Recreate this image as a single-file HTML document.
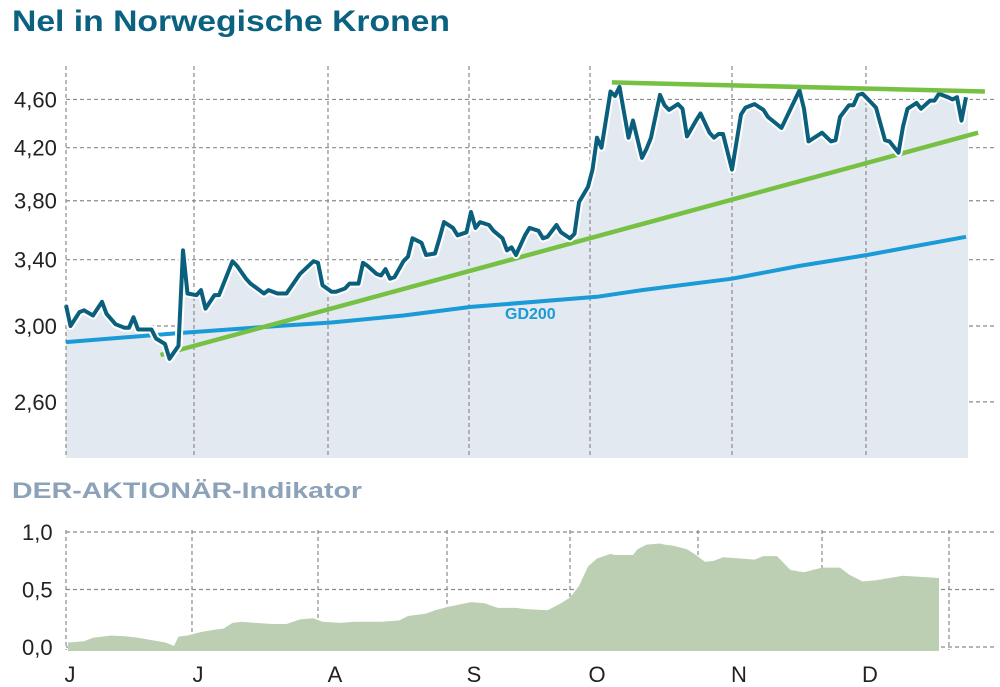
<!DOCTYPE html>
<html><head><meta charset="utf-8"><style>
html,body{margin:0;padding:0;background:#fff;}
svg{display:block;font-family:"Liberation Sans",sans-serif;}
</style></head><body>
<svg id="chart" width="1000" height="687" viewBox="0 0 1000 687">
<text x="12" y="31" font-size="30" font-weight="bold" fill="#0b6180" textLength="438" lengthAdjust="spacingAndGlyphs">Nel in Norwegische Kronen</text>
<text x="12" y="498" font-size="22" font-weight="bold" fill="#8ca2b9" textLength="350" lengthAdjust="spacingAndGlyphs">DER-AKTIONÄR-Indikator</text>
<g id="topPanel"></g>
<g id="botPanel"></g>
</svg>
<script>
const priceDays=[0,1,3,4,6,8,9,11,13,14,15,16,19,20,22,23,25,26,27,29,30,31,33,34,37,38,40,41,44,45,47,49,52,55,56,57,59,60,62,63,65,66,67,69,70,71,72,73,75,76,77,79,80,82,83,84,86,87,89,90,91,92,94,95,97,98,99,100,102,103,105,106,107,109,110,112,113,114,116,117,118,119,121,122,123,125,126,128,129,130,132,133,134,136,137,138,140,141,143,144,145,146,148,150,151,153,155,156,159,163,164,165,168,170,171,172,174,175,176,177,179,180,182,183,185,186,187,189,190,192,193,194,196,197,198,199,200];
const priceValues=[3.12,3.00,3.08,3.09,3.06,3.14,3.07,3.01,2.99,2.99,3.05,2.98,2.98,2.93,2.90,2.82,2.89,3.46,3.19,3.18,3.21,3.10,3.18,3.18,3.39,3.36,3.28,3.25,3.19,3.21,3.19,3.19,3.31,3.39,3.38,3.24,3.20,3.20,3.22,3.25,3.25,3.38,3.36,3.31,3.30,3.34,3.28,3.29,3.39,3.42,3.54,3.51,3.43,3.44,3.54,3.65,3.61,3.56,3.58,3.72,3.61,3.65,3.63,3.59,3.54,3.46,3.48,3.43,3.56,3.61,3.59,3.54,3.55,3.63,3.58,3.54,3.57,3.79,3.90,4.03,4.28,4.20,4.67,4.63,4.71,4.28,4.42,4.12,4.19,4.28,4.64,4.55,4.51,4.56,4.52,4.29,4.42,4.48,4.32,4.28,4.31,4.31,4.03,4.47,4.53,4.56,4.51,4.45,4.36,4.68,4.52,4.25,4.32,4.25,4.26,4.45,4.55,4.55,4.64,4.65,4.57,4.53,4.26,4.25,4.16,4.37,4.52,4.57,4.52,4.59,4.59,4.65,4.62,4.60,4.62,4.42,4.62];
const gdDays=[0,25,47,59,75,90,118,128,148,163,178,200];
const gdValues=[2.91,2.96,3.00,3.02,3.06,3.11,3.17,3.21,3.28,3.36,3.43,3.55];
const lowerTrendDays=[21,202.7];
const lowerTrendValues=[2.84,4.32];
const upperTrendDays=[121.3,204.2];
const upperTrendValues=[4.75,4.67];
const priceTicks=[4.60,4.20,3.80,3.40,3.00,2.60];
const priceTickLabels=["4,60","4,20","3,80","3,40","3,00","2,60"];
const indDays=[0,1,4,6,10,14,16,19,22,24,25,27,30,33,35,37,39,42,46,49,52,55,57,61,64,66,70,74,76,80,82,85,90,93,96,100,102,107,110,112,114,116,118,121,122,126,127,129,132,133,135,138,140,142,144,146,150,153,155,158,161,164,168,172,174,177,180,183,186,190,194];
const indValues=[0.04,0.04,0.05,0.08,0.10,0.09,0.08,0.06,0.04,0.01,0.09,0.10,0.13,0.15,0.16,0.21,0.22,0.21,0.20,0.20,0.24,0.25,0.22,0.21,0.22,0.22,0.22,0.23,0.27,0.29,0.32,0.35,0.39,0.38,0.34,0.34,0.33,0.32,0.38,0.43,0.53,0.70,0.77,0.81,0.80,0.80,0.85,0.89,0.90,0.89,0.88,0.85,0.80,0.74,0.75,0.78,0.77,0.76,0.79,0.79,0.67,0.65,0.69,0.69,0.63,0.57,0.58,0.60,0.62,0.61,0.60];
const indTicks=[1.0,0.5,0.0];
const indTickLabels=["1,0","0,5","0,0"];
const topGridLines=[66,194,328,469,590,732,866];
const botGridLines=[66,192,318,447,570,698,822,949];
const monthLabels=["J","J","A","S","O","N","D"];
const monthLabelX=[70,198,335,474,597,739,870];

const NS="http://www.w3.org/2000/svg";
function mk(tag,attrs,parent){const e=document.createElementNS(NS,tag);for(const k in attrs)e.setAttribute(k,attrs[k]);parent.appendChild(e);return e;}
const xDay=d=>66+d*4.5;
const yPrice=v=>326-530*Math.log(v/3);
const yInd=v=>647-115*v;
const gTop=document.getElementById('topPanel'), gBot=document.getElementById('botPanel');

priceTicks.forEach((t,i)=>{
  const l=mk('line',{x1:66,x2:995,y1:yPrice(t),y2:yPrice(t),stroke:'#8a8a8a','stroke-width':1.2,'stroke-dasharray':'4,3'},gTop);
  
  
  const tx=mk('text',{x:14,y:yPrice(t)+8,'font-size':22,fill:'#222'},gTop);
  tx.textContent=priceTickLabels[i];
  
  
});
let area='M'+xDay(priceDays[0])+',458';
priceDays.forEach((d,i)=>{area+=' L'+xDay(d).toFixed(1)+','+yPrice(priceValues[i]).toFixed(1);});
area+=' L'+(xDay(priceDays[priceDays.length-1])+2)+','+yPrice(priceValues[priceValues.length-1]).toFixed(1)+' L'+(xDay(priceDays[priceDays.length-1])+2)+',458 Z';
const ar=mk('path',{d:area,fill:'#e3e9f1'},gTop);


topGridLines.forEach(x=>{
  const l=mk('line',{x1:x,x2:x,y1:66,y2:458,stroke:'#8a8a8a','stroke-width':1.2,'stroke-dasharray':'4,3'},gTop);
  
  
});
function poly(days,vals,ys){return days.map((d,i)=>(i?'L':'M')+xDay(d).toFixed(1)+','+ys(vals[i]).toFixed(1)).join(' ');}
const gd=mk('path',{d:poly(gdDays,gdValues,yPrice),fill:'none',stroke:'#1a9ad6','stroke-width':4,'stroke-linejoin':'round'},gTop);


const gdl=mk('text',{x:505,y:319,'font-size':16,'font-weight':'bold',fill:'#1a9ad6'},gTop);
gdl.textContent='GD200';


const lt=mk('path',{d:poly(lowerTrendDays,lowerTrendValues,yPrice),stroke:'#76c043','stroke-width':4.5,fill:'none'},gTop);


const pd=poly(priceDays,priceValues,yPrice);
const halo=mk('path',{d:pd,fill:'none',stroke:'#fff','stroke-width':8,'stroke-linejoin':'round'},gTop);


const pl=mk('path',{d:pd,fill:'none',stroke:'#0a5f7c','stroke-width':4,'stroke-linejoin':'round'},gTop);


const ut=mk('path',{d:poly(upperTrendDays,upperTrendValues,yPrice),stroke:'#76c043','stroke-width':4.5,fill:'none'},gTop);



indTicks.forEach((t,i)=>{
  const l=mk('line',{x1:66,x2:995,y1:yInd(t),y2:yInd(t),stroke:'#8a8a8a','stroke-width':1.2,'stroke-dasharray':'4,3'},gBot);
  
  
  const tx=mk('text',{x:22,y:yInd(t)+8,'font-size':22,fill:'#222'},gBot);
  tx.textContent=indTickLabels[i];
  
  
});
botGridLines.forEach(x=>{
  const l=mk('line',{x1:x,x2:x,y1:530,y2:650,stroke:'#8a8a8a','stroke-width':1.2,'stroke-dasharray':'4,3'},gBot);
  
  
});
let ia='M'+(xDay(indDays[0])+2)+',651';
indDays.forEach((d,i)=>{ia+=' L'+(xDay(d)+(i?0:2)).toFixed(1)+','+yInd(indValues[i]).toFixed(1);});
ia+=' L'+xDay(indDays[indDays.length-1])+',651 Z';
const ind=mk('path',{d:ia,fill:'#bdcfb3'},gBot);


monthLabels.forEach((m,i)=>{
  const t=mk('text',{x:monthLabelX[i],y:682,'font-size':22,fill:'#222','text-anchor':'middle'},gBot);
  t.textContent=m;
  
  
});
</script>
</body></html>
